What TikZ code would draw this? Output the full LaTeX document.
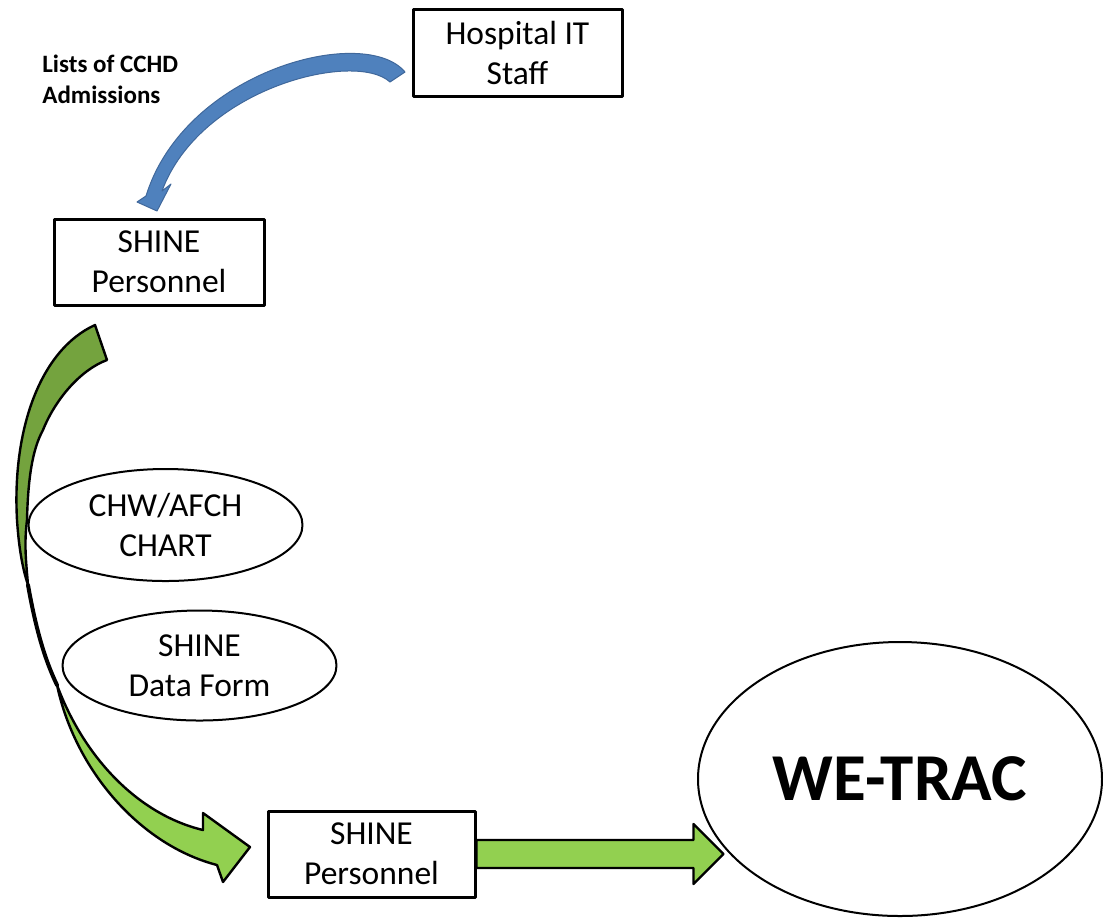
\documentclass[tikz,border=0pt]{standalone}
\usepackage{fontspec}
\setmainfont{Carlito}
\usetikzlibrary{shapes.geometric}
\definecolor{arrowblue}{RGB}{79,129,189}
\definecolor{arrowblueedge}{RGB}{64,104,155}
\definecolor{greendark}{RGB}{116,163,62}
\definecolor{greenlight}{RGB}{146,208,80}

\begin{document}
\begin{tikzpicture}[line cap=round,line join=round,x=0.5pt,y=-0.5pt,
	box/.style={draw,line width=1.5pt,rectangle,inner sep=0pt,align=center,font=\fontsize{16.75}{20}\selectfont},
	oval/.style={draw,line width=1pt,ellipse,inner sep=0pt,align=center,font=\fontsize{16.75}{20}\selectfont},
	greenarrow/.style={draw=black,line width=1.2pt,fill=greenlight}]
		\useasboundingbox (0,0) rectangle (1103,918);
		% arrows first, the frames go on top
		\draw [fill=arrowblue,draw=arrowblueedge,line width=0.5pt] (405,72) .. controls (365,24) and (185,70) .. (146,196) -- (137,202) -- (157,211) -- (171,184) -- (162,191) .. controls (200,88) and (355,50) .. (390,82) -- cycle;
		\draw [greenarrow,fill=greendark] (95,325) .. controls (40,350) and (12,430) .. (17,520) .. controls (19,550) and (23,570) .. (28,585) .. controls (26,560) and (24,545) .. (27,520) .. controls (28,480) and (32,450) .. (43,430) .. controls (55,400) and (80,370) .. (107,360) -- cycle;
		\draw [line width=2pt] (28,585) .. controls (36,630) and (45,660) .. (57,685);
		\draw [greenarrow] (57,685) .. controls (75,770) and (140,845) .. (217,865) -- (223,882) -- (250,847) -- (203,813) -- (203,830) .. controls (140,815) and (85,760) .. (57,685) -- cycle;
		% boxes and ovals
		\node [box,minimum width=104.5pt,minimum height=43.5pt] (hospital) at (517.5,52.5) {Hospital IT\\Staff};
		\node [box,minimum width=105pt,minimum height=43pt] (shineTop) at (159,262) {SHINE\\Personnel};
		\node [box,minimum width=103.5pt,minimum height=43pt] (shineBot) at (371.5,854) {SHINE\\Personnel};
		\node [oval,minimum width=137pt,minimum height=56pt] (chart) at (165.5,525) {CHW/AFCH\\CHART};
		\node [oval,minimum width=137pt,minimum height=55pt] (dataForm) at (199.5,665.5) {SHINE\\Data Form};
		\node [oval,minimum width=202pt,minimum height=137pt,font=\bfseries\fontsize{33.5}{40}\selectfont] (wetrac) at (900,779) {WE-TRAC};
		\node [anchor=north west,inner sep=0pt,align=left,font=\bfseries\fontsize{12.5}{15.5}\selectfont] (lists) at (42,55) {Lists of CCHD\\Admissions};
		\draw [greenarrow] ([yshift=7pt]shineBot.east) -- ++(217,0) -- ++(0,-16) -- ++(30,30) -- ++(-30,30) -- ++(0,-16) -- ++(-217,0) -- cycle;
	\end{tikzpicture}
\end{document}
